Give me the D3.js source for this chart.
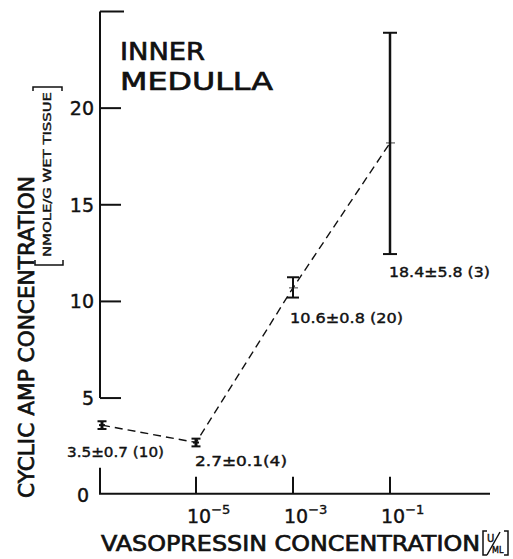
<!DOCTYPE html>
<html>
<head>
<meta charset="utf-8">
<script src="https://cdn.jsdelivr.net/npm/d3@7"></script>
<style>
  body { margin: 0; background: #fff; }
  text { font-family: "DejaVu Sans", sans-serif; fill: #111; }
  .heavy { stroke: #111; stroke-width: 0.7px; }
  .mid { stroke: #111; stroke-width: 0.4px; }
</style>
</head>
<body>
<div id="container"></div>
<script>
const width = 513;
const height = 559;

// data
const doses = [0, 1e-5, 1e-3, 1e-1];           // 0 = control, no vasopressin
const means = [3.6, 2.7, 10.7, 18.2];
const lows = [3.4, 2.5, 10.2, 12.45];
const highs = [3.8, 2.9, 11.25, 23.9];
const labels = ["3.5\u00b10.7 (10)", "2.7\u00b10.1(4)", "10.6\u00b10.8 (20)", "18.4\u00b15.8 (3)"];
const yTicks = [5, 10, 15, 20, 25];
const yTickLabels = ["5", "10", "15", "20", ""];
const xTicks = [1e-5, 1e-3, 1e-1];
const xTickExp = ["\u22125", "\u22123", "\u22121"];

const x = d3.scaleLog().domain([1e-7, 1e-1]).range([99, 390]);
const y = d3.scaleLinear().domain([0, 25]).range([494.7, 11.5]);
const px = d => d === 0 ? x.range()[0] + 3 : x(d);

const svg = d3.select("#container")
  .append("svg")
  .attr("width", width)
  .attr("height", height)
  .attr("viewBox", [0, 0, width, height]);

const ink = "#111";

// y axis (broken between 0 and 5)
const yAxis = svg.append("g").attr("transform", "translate(100,0)");
yAxis.append("line").attr("y1", y(25)).attr("y2", y(5)).attr("stroke", ink).attr("stroke-width", 2);
yAxis.append("line").attr("y1", y(0) - 1).attr("y2", y(0) - 27).attr("stroke", ink).attr("stroke-width", 2);
yAxis.selectAll(".tick").data(yTicks).join("line")
  .attr("x1", 0).attr("x2", d => d === 25 ? 24 : 21)
  .attr("y1", d => y(d)).attr("y2", d => y(d))
  .attr("stroke", ink).attr("stroke-width", 2);
yAxis.selectAll(".lbl").data(yTicks).join("text")
  .attr("class", "mid")
  .attr("x", -6).attr("y", d => y(d) + 7)
  .attr("text-anchor", "end").attr("font-size", 19)
  .text((d, i) => yTickLabels[i]);
svg.append("text")
  .attr("class", "mid")
  .attr("x", 89).attr("y", y(0) + 7)
  .attr("text-anchor", "end").attr("font-size", 19)
  .text("0");

// x axis
const xAxis = svg.append("g").attr("transform", `translate(0,${y(0) - 1})`);
xAxis.append("line").attr("x1", 99).attr("x2", 490).attr("stroke", ink).attr("stroke-width", 2);
xAxis.selectAll(".tick").data(xTicks).join("line")
  .attr("x1", d => x(d)).attr("x2", d => x(d))
  .attr("y1", 0).attr("y2", -17)
  .attr("stroke", ink).attr("stroke-width", 2);
const xl = xAxis.selectAll(".lbl").data(xTicks).join("text")
  .attr("class", "mid")
  .attr("x", d => x(d) - 9).attr("y", 29)
  .attr("font-size", 19);
xl.append("tspan").text("10");
xl.append("tspan").attr("dy", -9).attr("font-size", 13).text((d, i) => xTickExp[i]);

// dashed connecting line
const pts = doses.map((d, i) => [px(d), y(means[i])]);
svg.append("path")
  .attr("d", d3.line()(pts))
  .attr("fill", "none")
  .attr("stroke", ink)
  .attr("stroke-width", 1.4)
  .attr("stroke-dasharray", "8,5");

// error bars
const capW = [9, 9, 12, 14];
const barW = [3, 3, 2, 2.5];
const bars = svg.append("g").attr("stroke", ink);
doses.forEach((d, i) => {
  const cx = px(d);
  bars.append("line").attr("x1", cx).attr("x2", cx).attr("y1", y(lows[i])).attr("y2", y(highs[i]))
    .attr("stroke-width", barW[i]);
  [lows[i], highs[i]].forEach(v => {
    bars.append("line").attr("x1", cx - capW[i] / 2).attr("x2", cx + capW[i] / 2)
      .attr("y1", y(v)).attr("y2", y(v)).attr("stroke-width", 2);
  });
  if (i < 2) {
    bars.append("line").attr("x1", cx - 3).attr("x2", cx + 3)
      .attr("y1", y(means[i])).attr("y2", y(means[i])).attr("stroke-width", 2);
  } else {
    bars.append("line").attr("x1", cx - 4).attr("x2", cx + 5)
      .attr("y1", y(means[i])).attr("y2", y(means[i])).attr("stroke-width", 0.8);
  }
});

// value labels
const labDx = [-35, -1, -3, -1];
const labDy = [28, 20, 25, 23];
const labLen = [97, 92, 113, 101];
svg.selectAll(".val").data(labels).join("text")
  .attr("class", "mid")
  .attr("x", (d, i) => px(doses[i]) + labDx[i])
  .attr("y", (d, i) => y(lows[i]) + labDy[i])
  .attr("font-size", 14)
  .attr("textLength", (d, i) => labLen[i])
  .attr("lengthAdjust", "spacingAndGlyphs")
  .text(d => d);

// panel title
svg.append("text").attr("class", "heavy").attr("font-size", 25.5)
  .attr("x", 120).attr("y", 60)
  .attr("textLength", 85).attr("lengthAdjust", "spacingAndGlyphs").text("INNER");
svg.append("text").attr("class", "heavy").attr("font-size", 25.5)
  .attr("x", 120).attr("y", 90)
  .attr("textLength", 153).attr("lengthAdjust", "spacingAndGlyphs").text("MEDULLA");

// y title
svg.append("text")
  .attr("class", "heavy")
  .attr("transform", "translate(34,498) rotate(-90)")
  .attr("font-size", 22)
  .attr("textLength", 322).attr("lengthAdjust", "spacingAndGlyphs")
  .text("CYCLIC AMP CONCENTRATION");
svg.append("text")
  .attr("class", "mid")
  .attr("transform", "translate(51,257) rotate(-90)")
  .attr("font-size", 11)
  .attr("textLength", 165).attr("lengthAdjust", "spacingAndGlyphs")
  .text("NMOLE/G WET TISSUE");
svg.append("path")
  .attr("d", "M35,260V265H63V260M33,91V87H62V91")
  .attr("fill", "none").attr("stroke", ink).attr("stroke-width", 1.5);

// x title
svg.append("text")
  .attr("class", "heavy")
  .attr("x", 101).attr("y", 551).attr("font-size", 21)
  .attr("textLength", 379).attr("lengthAdjust", "spacingAndGlyphs")
  .text("VASOPRESSIN CONCENTRATION");
svg.append("path")
  .attr("d", "M487,531H483V555H487M504,531H508V555H504M487,555L500,532")
  .attr("fill", "none").attr("stroke", ink).attr("stroke-width", 1.5);
svg.append("text").attr("class", "mid").attr("x", 487).attr("y", 542).attr("font-size", 10).text("U");
svg.append("text").attr("class", "mid").attr("x", 492).attr("y", 553).attr("font-size", 8).text("ML");
</script>
</body>
</html>
